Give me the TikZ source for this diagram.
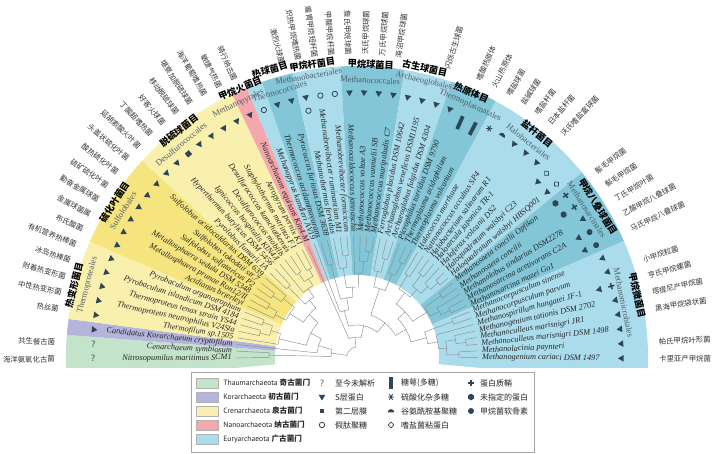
\documentclass[tikz,border=0pt]{standalone}
\usepackage{fontspec}
\setmainfont{Liberation Serif}
\newfontfamily\cjk{Noto Sans CJK SC}
\newfontfamily\lsans{PT Sans}
\usetikzlibrary{positioning}
\definecolor{thaumgreen}{HTML}{C3E3CB}
\definecolor{korpurple}{HTML}{B4B4DC}
\definecolor{crenyellow}{HTML}{FAF0AE}
\definecolor{crendark}{HTML}{F6E47E}
\definecolor{nanopink}{HTML}{F4A8AE}
\definecolor{eurylight}{HTML}{ABDCEC}
\definecolor{eurydark}{HTML}{82C6D8}
\definecolor{symbcol}{HTML}{2E4656}
\definecolor{branchgrey}{HTML}{8C8C8C}
\definecolor{ordgrey}{HTML}{4E5E68}

% cell wall symbols, x axis = outward radius
\tikzset{
  symb/.style={fill=symbcol, draw=none},
  none/.pic={},
  qm/.pic={\node[inner sep=0pt, text=symbcol, font=\lsans\fontsize{9}{9}\selectfont] {?};},
  sl/.pic={\fill[symb] (-3,0) -- (2.6,3.3) -- (2.6,-3.3) -- cycle;},
  sq/.pic={\fill[symb] (-2.6,-2.6) rectangle (2.6,2.6);},
  pm/.pic={\draw[symbcol, line width=0.8pt] (0,0) circle (2.7);},
  gc/.pic={\fill[symb] (-6,-1.9) rectangle (6,1.9);},
  gcr/.pic={\fill[symb] (-15,-1.9) rectangle (-1,1.9);},
  as/.pic={\draw[symbcol, line width=0.9pt] (0:3.2) -- (180:3.2) (60:3.2) -- (240:3.2) (120:3.2) -- (300:3.2);},
  dm/.pic={\fill[symb] (0,-3.4) arc[start angle=-90, end angle=90, radius=3.4] -- cycle;},
  hm/.pic={\draw[symbcol, line width=0.7pt] (-2.8,0) -- (0,2.8) -- (2.8,0) -- (0,-2.8) -- cycle;},
  ps/.pic={\draw[symbcol, line width=1.5pt] (-3.2,0) -- (3.2,0) (0,-3.2) -- (0,3.2);},
  up/.pic={\fill[symb] (0:3.3) -- (60:3.3) -- (120:3.3) -- (180:3.3) -- (240:3.3) -- (300:3.3) -- cycle;},
  mc/.pic={\fill[symb] (0,0) circle (3);}
}

% leaf i sits at angle 180.4-3.17*i
\newcommand{\clade}[5]{%
  \pgfmathsetmacro\angA{180.4-3.17*#1}%
  \pgfmathsetmacro\angB{180.4-3.17*#4}%
  \pgfmathsetmacro\angC{180.4-3.17*#5}%
  \draw[branch] (\angA:#3) -- (\angA:#2) (\angB:#2) arc[start angle=\angB, end angle=\angC, radius=#2];}

\newcommand{\band}[3]{%
  \pgfmathsetmacro\angA{180.4-3.17*#1+1.585}%
  \pgfmathsetmacro\angB{180.4-3.17*#2-1.585}%
  \fill[#3] (\angA:82) arc[start angle=\angA, end angle=\angB, radius=82]
    -- (\angB:291) arc[start angle=\angB, end angle=\angA, radius=291] -- cycle;}

% index, name, parent radius, chinese name, outer symbol, inner symbol
\newcommand{\taxon}[6]{%
  \pgfmathsetmacro\tang{180.4-3.17*#1}%
  \draw[branch] (\tang:#3) -- (\tang:121);
  \ifdim\tang pt>90pt
    \pgfmathsetmacro\trot{\tang-180}%
    \node[species, anchor=east, rotate=\trot] (sp#1) at (\tang:125) {#2};
    \node[common, anchor=east, rotate=\trot] (cn#1) at (\tang:302) {#4};
  \else
    \node[species, anchor=west, rotate=\tang] (sp#1) at (\tang:125) {#2};
    \node[common, anchor=west, rotate=\tang] (cn#1) at (\tang:302) {#4};
  \fi
  \pic[rotate=\tang] at (\tang:264) {#5};
  \pic[rotate=\tang] at (\tang:251) {#6};}

\newcommand{\ordlabel}[6]{%
  \pgfmathsetmacro\trot{#1-90}%
  \node[ordla, rotate=\trot] at (#1:#2) {#3};
  \pgfmathsetmacro\trot{#4-90}%
  \node[ordcn, rotate=\trot] at (#4:#5) {#6};}

\begin{document}
\begin{tikzpicture}[x=1pt, y=1pt,
    branch/.style={draw=branchgrey, line width=0.45pt},
    species/.style={inner sep=0pt, text=black!85, font=\fontsize{8.3}{9}\selectfont\itshape},
    common/.style={inner sep=0pt, text=black!80, font=\cjk\fontsize{7.4}{8}\selectfont},
    ordla/.style={inner sep=0pt, text=ordgrey, font=\fontsize{8.6}{9}\selectfont},
    ordcn/.style={inner sep=0pt, font=\cjk\bfseries\fontsize{9.2}{10}\selectfont},
    swatch/.style={draw=black!30, minimum width=22pt, minimum height=10pt, inner sep=0pt},
    legtext/.style={anchor=west, inner sep=0pt, text=black!85, font=\lsans\fontsize{7.6}{9}\selectfont},
    legcn/.style={anchor=west, inner sep=0pt, text=black!85, font=\cjk\fontsize{8}{9}\selectfont}
]
\useasboundingbox (-357,-97) rectangle (363,357);

% Phylum and order sectors
\begin{scope}
\clip (-300,-11) rectangle (300,300);
\band{-1}{1}{thaumgreen}
\band{2}{2}{korpurple}
\band{3}{7}{crenyellow}
\band{8}{13}{crendark}
\band{14}{20}{crenyellow}
\band{21}{21}{nanopink}
\band{22}{22}{eurylight}
\band{23}{24}{eurydark}
\band{25}{27}{eurylight}
\band{28}{31}{eurydark}
\band{32}{34}{eurylight}
\band{35}{37}{eurydark}
\band{38}{44}{eurylight}
\band{45}{49}{eurydark}
\band{50}{58}{eurylight}
\end{scope}

% Tree: position, radius, parent radius, first child, last child
\clade{14.8}{10}{10}{2.9}{26.65}
\clade{2.9}{26}{10}{0.5}{5.35}
\clade{0.5}{88}{26}{0}{1}
\clade{5.35}{40}{26}{2}{8.7}
\clade{8.7}{52}{40}{4.25}{13.2}
\clade{4.25}{80}{52}{3}{5.5}
\clade{5.5}{90}{80}{4.5}{6.5}
\clade{4.5}{100}{90}{4}{5}
\clade{6.5}{100}{90}{6}{7}
\clade{13.2}{64}{52}{10.5}{15.9}
\clade{10.5}{80}{64}{8.75}{12.25}
\clade{8.75}{92}{80}{8}{9.5}
\clade{9.5}{102}{92}{9}{10}
\clade{12.25}{94}{80}{11.5}{13}
\clade{11.5}{104}{94}{11}{12}
\clade{15.9}{74}{64}{14.5}{17.25}
\clade{14.5}{98}{74}{14}{15}
\clade{17.25}{84}{74}{16}{18.5}
\clade{18.5}{92}{84}{17.5}{19.5}
\clade{17.5}{102}{92}{17}{18}
\clade{19.5}{100}{92}{19}{20}
\clade{26.65}{20}{10}{21}{32.3}
\clade{32.3}{32}{20}{23.7}{40.95}
\clade{23.7}{48}{32}{22}{25.4}
\clade{25.4}{60}{48}{23.5}{27.3}
\clade{23.5}{96}{60}{23}{24}
\clade{27.3}{70}{60}{25.75}{28.9}
\clade{25.75}{90}{70}{25}{26.5}
\clade{26.5}{102}{90}{26}{27}
\clade{28.9}{84}{70}{28}{29.75}
\clade{29.75}{96}{84}{29}{30.5}
\clade{30.5}{106}{96}{30}{31}
\clade{40.95}{44}{32}{34.25}{47.65}
\clade{34.25}{72}{44}{32.75}{35.75}
\clade{32.75}{88}{72}{32}{33.5}
\clade{33.5}{102}{88}{33}{34}
\clade{35.75}{90}{72}{35}{36.5}
\clade{36.5}{104}{90}{36}{37}
\clade{47.65}{56}{44}{43.3}{52}
\clade{43.3}{66}{56}{40.05}{46.6}
\clade{40.05}{80}{66}{38.5}{41.6}
\clade{38.5}{96}{80}{38}{39}
\clade{41.6}{90}{80}{40.5}{42.75}
\clade{40.5}{104}{90}{40}{41}
\clade{42.75}{100}{90}{42}{43.5}
\clade{43.5}{110}{100}{43}{44}
\clade{46.6}{84}{66}{45.5}{47.75}
\clade{45.5}{104}{84}{45}{46}
\clade{47.75}{94}{84}{47}{48.5}
\clade{48.5}{104}{94}{48}{49}
\clade{52}{72}{56}{50.5}{53.55}
\clade{50.5}{102}{72}{50}{51}
\clade{53.55}{82}{72}{52}{55.1}
\clade{55.1}{90}{82}{53.75}{56.5}
\clade{53.75}{100}{90}{53}{54.5}
\clade{54.5}{110}{100}{54}{55}
\clade{56.5}{102}{90}{56}{57}

% Taxa
\taxon{0}{Nitrosopumilus maritimus SCM1}{88}{海洋氨氧化古菌}{qm}{none}
\taxon{1}{Cenarchaeum symbiosum}{88}{共生餐古菌}{qm}{none}
\taxon{2}{Candidatus Korarchaeum cryptofilum}{40}{}{sl}{none}
\taxon{3}{Thermofilum sp.1505}{80}{热丝菌}{sl}{none}
\taxon{4}{Thermoproteus neutrophilus V24Sta}{100}{中性热变形菌}{sl}{none}
\taxon{5}{Thermoproteus tenax strain YS44}{100}{附着热变形菌}{sl}{none}
\taxon{6}{Pyrobaculum islandicum DSM 4184}{100}{冰岛热棒菌}{sl}{none}
\taxon{7}{Pyrobaculum organotrophum}{100}{有机营养热棒菌}{sl}{none}
\taxon{8}{Acidianus brierleyi}{92}{布氏酸菌}{sl}{none}
\taxon{9}{Metallosphaera prunae Ron12/II}{102}{金属球菌属}{sl}{none}
\taxon{10}{Metallosphaera sedula DSM 5348}{102}{勤奋金属球菌}{sl}{none}
\taxon{11}{Sulfolobus solfataricus P2}{104}{硫矿硫化叶菌}{sl}{none}
\taxon{12}{Sulfolobus tokodaii str.7}{104}{酸热硫化叶菌}{sl}{none}
\taxon{13}{Sulfolobus acidocaldarius DSM 639}{94}{头盖状硫化叶菌}{sl}{none}
\taxon{14}{Pyrolobus fumarii 1A}{98}{延胡索酸火叶菌}{sl}{none}
\taxon{15}{Hyperthermus butylicus DSM 5456}{98}{丁酸超嗜热菌}{sl}{none}
\taxon{16}{Ignicoccus hospitalis KIN4/I}{84}{好客火球菌}{sq}{none}
\taxon{17}{Desulfurococcus mobilis}{102}{移动脱硫球菌}{sl}{none}
\taxon{18}{Desulfurococcus kamchatkensis}{102}{堪察加脱硫球菌}{sl}{none}
\taxon{19}{Staphylothermus marinus F1}{100}{海洋葡萄嗜热菌}{sl}{none}
\taxon{20}{Aeropyrum pernix K1}{100}{敏捷气热菌}{sl}{none}
\taxon{21}{Nanoarchaeum equitans Kin4-M}{20}{骑行纳古菌}{sl}{none}
\taxon{22}{Methanopyrus kandleri AV19}{48}{}{pm}{none}
\taxon{23}{Thermococcus acidaminovorans}{96}{}{sl}{none}
\taxon{24}{Pyrococcus furiosus DSM 3638}{96}{激烈火球菌}{sl}{none}
\taxon{25}{Methanothermus fervidus}{90}{炽热甲烷嗜热菌}{sl}{pm}
\taxon{26}{Methanobrevibacter ruminantium M1}{102}{瘤胃甲烷短杆菌}{pm}{none}
\taxon{27}{Methanobrevibacter formicicum}{102}{甲酸甲烷杆菌}{pm}{none}
\taxon{28}{Methanocaldococcus jannaschii}{84}{詹氏甲烷球菌}{sl}{none}
\taxon{29}{Methanococcus voltae A3}{96}{沃氏甲烷球菌}{sl}{none}
\taxon{30}{Methanococcus vannielii SB}{106}{万氏甲烷球菌}{sl}{none}
\taxon{31}{Methanococcus maripaludis C7}{106}{海沼甲烷球菌}{sl}{none}
\taxon{32}{Ferroglobus placidus DSM 10642}{88}{}{sl}{none}
\taxon{33}{Archaeoglobus veneficus DSM11195}{102}{}{sl}{none}
\taxon{34}{Archaeoglobus fulgidus DSM 4304}{102}{闪烁古生球菌}{sl}{none}
\taxon{35}{Picrophilus torridus DSM 9790}{90}{}{sl}{none}
\taxon{36}{Thermoplasma acidophilum}{104}{嗜酸热原体}{gcr}{none}
\taxon{37}{Thermoplasma volcanium}{104}{火山热原体}{gcr}{none}
\taxon{38}{Halococcus morrhuae}{96}{嗜盐球菌}{as}{none}
\taxon{39}{Natronococcus occultus SP4}{96}{盐碱球菌}{dm}{none}
\taxon{40}{Halobacterium salinarum R1}{104}{嗜盐杆菌}{sl}{none}
\taxon{41}{Haloarcula japonica TR-1}{104}{日本盐杆菌}{sl}{none}
\taxon{42}{Haloferax volcanii DS2}{100}{沃氏嗜盐富球菌}{sl}{none}
\taxon{43}{Haloquadratum walsbyi C23}{110}{}{hm}{sl}
\taxon{44}{Haloquadratum walsbyi HBSQ001}{110}{}{hm}{sl}
\taxon{45}{Methanosaeta concilii Opfikon}{104}{鬃毛甲烷菌}{ps}{up}
\taxon{46}{Methanosaeta concilii}{104}{鬃毛甲烷菌}{ps}{up}
\taxon{47}{Methanolobus tindarius DSM2278}{94}{丁氏甲烷叶菌}{sl}{none}
\taxon{48}{Methanosarcina acetivorans C2A}{104}{乙酸甲烷八叠球菌}{mc}{sl}
\taxon{49}{Methanosarcina mazei Go1}{104}{马氏甲烷八叠球菌}{mc}{sl}
\taxon{50}{Methanocorpusculum sinense}{102}{}{sl}{none}
\taxon{51}{Methanocorpusculum parvum}{102}{小甲烷粒菌}{sl}{none}
\taxon{52}{Methanospirillum hungatei JF-1}{82}{亨氏甲烷螺菌}{ps}{sl}
\taxon{53}{Methanogenium tationis DSM 2702}{100}{塔提尼产甲烷菌}{sl}{none}
\taxon{54}{Methanoculleus marisnigri JR1}{110}{黑海甲烷袋状菌}{sl}{none}
\taxon{55}{Methanoculleus marisnigri DSM 1498}{110}{}{sl}{none}
\taxon{56}{Methanolacinia paynteri}{102}{帕氏甲烷叶形菌}{sl}{none}
\taxon{57}{Methanogenium cariaci DSM 1497}{102}{卡里亚产甲烷菌}{sl}{none}

% Order labels
\ordlabel{165.1}{279}{Thermoproteales}{165.7}{292}{热变形菌目}
\ordlabel{148}{276}{Sulfolobales}{147.4}{288}{硫化叶菌目}
\ordlabel{129.6}{276}{Desulfurococcales}{128.2}{288}{脱硫球菌目}
\ordlabel{115.1}{280}{Methanopyrales}{113.5}{293}{甲烷火菌目}
\ordlabel{106.2}{277}{Thermococcales}{106.9}{300}{热球菌目}
\ordlabel{99.8}{285}{Methanobacteriales}{98.7}{296}{甲烷杆菌目}
\ordlabel{87.3}{277}{Methanococcales}{87.3}{293}{甲烷球菌目}
\ordlabel{76.4}{284}{Archaeoglobales}{76.8}{297}{古生球菌目}
\ordlabel{65.8}{276}{Thermoplasmatales}{66.6}{288}{热原体目}
\ordlabel{51.4}{275}{Halobacteriales}{51.1}{287}{盐杆菌目}
\ordlabel{32.7}{273}{Methanosarcinales}{32.0}{284}{甲烷八叠球菌目}
\ordlabel{11.5}{272}{Methanomicrobiales}{12.5}{287}{甲烷微菌目}

% Legend
\node[draw=black!35, line width=0.6pt, fill=white, minimum width=343pt, minimum height=80pt, inner sep=0pt] (legend) at (5.5,-55) {};
\node[swatch, fill=thaumgreen] (swthaum) at (-150,-26) {};
\node[swatch, fill=korpurple] (swkor) at (-150,-40) {};
\node[swatch, fill=crenyellow] (swcren) at (-150,-54) {};
\node[swatch, fill=nanopink] (swnano) at (-150,-68) {};
\node[swatch, fill=eurylight] (sweury) at (-150,-82) {};
\node[legtext, right=5pt of swthaum] (lgthaum) {Thaumarchaeota {\cjk\bfseries 奇古菌门}};
\node[legtext, right=5pt of swkor] (lgkor) {Korarchaeota {\cjk\bfseries 初古菌门}};
\node[legtext, right=5pt of swcren] (lgcren) {Crenarchaeota {\cjk\bfseries 泉古菌门}};
\node[legtext, right=5pt of swnano] (lgnano) {Nanoarchaeota {\cjk\bfseries 纳古菌门}};
\node[legtext, right=5pt of sweury] (lgeury) {Euryarchaeota {\cjk\bfseries 广古菌门}};

\pic at (-35,-26) {qm};
\pic[rotate=90] at (-35,-40.5) {sl};
\pic[scale=0.9] at (-35,-54) {sq};
\pic at (-35,-68) {pm};
\node[legcn] (lgunk) at (-22,-26) {至今未解析};
\node[legcn] (lgsl) at (-22,-40) {S层蛋白};
\node[legcn] (lgsec) at (-22,-54) {第二层膜};
\node[legcn] (lgpm) at (-22,-68) {假肽聚糖};

\pic[rotate=90] at (34,-26) {gc};
\pic at (34,-40) {as};
\pic[rotate=90] at (34,-55.5) {dm};
\pic at (34,-68) {hm};
\node[legcn] (lggc) at (44,-26) {糖萼(多糖)};
\node[legcn] (lgas) at (44,-40) {硫酸化杂多糖};
\node[legcn] (lgdm) at (44,-54) {谷氨酰胺基聚糖};
\node[legcn] (lghm) at (44,-68) {嗜盐菌粘蛋白};

\pic at (114,-26) {ps};
\pic[rotate=90] at (114,-40) {up};
\pic at (114,-54) {mc};
\node[legcn] (lgps) at (123,-26) {蛋白质鞘};
\node[legcn] (lgup) at (123,-40) {未指定的蛋白};
\node[legcn] (lgmc) at (123,-54) {甲烷菌软骨素};

\end{tikzpicture}
\end{document}
